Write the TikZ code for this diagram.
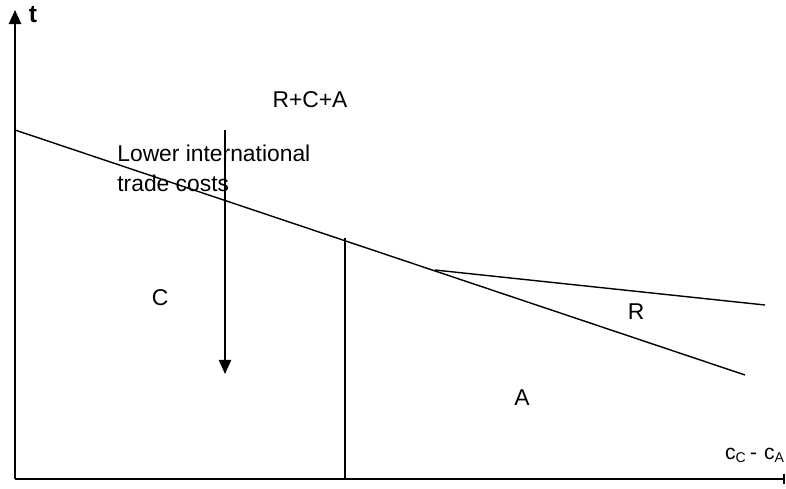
\documentclass[tikz,border=0pt]{standalone}
\usepackage{fontspec}
\setmainfont{Liberation Sans}
\usetikzlibrary{arrows.meta}
\begin{document}
\begin{tikzpicture}[x=0.02cm, y=-0.02cm, >={Triangle[length=8pt,width=7pt]},
    line/.style={black, line width=0.8pt},
    lbl/.style={font=\fontsize{13}{17}\selectfont, inner sep=0pt}]
    \useasboundingbox (0,0) rectangle (786,489);
    % Axes
    \coordinate (O) at (15,479);
    \coordinate (ytop) at (15,10);
    \coordinate (xend) at (784,479);
    \draw[->, black, line width=1.1pt] (O) -- (ytop);
    \draw[black, line width=1.1pt] (O) -- (xend);
    \draw[black, line width=0.8pt] (784,474) -- (784,484);
    \node[lbl, font=\fontsize{14}{17}\bfseries] (t) at (33,15) {t};
    \node[lbl, font=\fontsize{12}{14}\selectfont] (xlab) at (755,455) {c\textsubscript{C}\,-\,\,c\textsubscript{A}};
    % Boundary lines
    \coordinate (a0) at (15,130);
    \coordinate (a1) at (745,375);
    \coordinate (v0) at (345,238);
    \coordinate (v1) at (345,479);
    \coordinate (r0) at (435,270);
    \coordinate (r1) at (765,305);
    \draw[line] (a0) -- (a1);
    \draw[line] (v0) -- (v1);
    \draw[line] (r0) -- (r1);
    % Regions
    \node[lbl] (rca) at (310,100) {R+C+A};
    \node[lbl] (regC) at (160,298) {C};
    \node[lbl] (regR) at (636,312) {R};
    \node[lbl] (regA) at (522,398) {A};
    % Shift
    \node[lbl, anchor=north west, align=left] (cost) at (117,145) {Lower international\\trade costs};
    \coordinate (s0) at (225,130);
    \coordinate (s1) at (225,374);
    \draw[->, line] (s0) -- (s1);
\end{tikzpicture}
\end{document}
